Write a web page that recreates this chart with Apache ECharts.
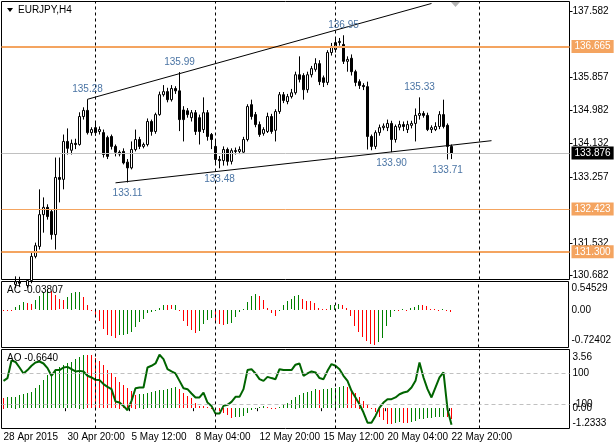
<!DOCTYPE html>
<html>
<head>
<meta charset="utf-8">
<script src="https://cdn.jsdelivr.net/npm/echarts@6/dist/echarts.min.js"></script>
<style>
  html, body { margin: 0; padding: 0; background: #fff; }
  #chart { width: 614px; height: 447px; }
</style>
</head>
<body>
<div id="chart"></div>
<script>
// EURJPY H4, 28 Apr 2015 04:00 .. 22 May 2015 20:00 (one value per bar)
const symbolName = 'EURJPY,H4';

const opens = [130.35,130.40,130.30,130.45,130.52,130.48,130.42,130.55,131.18,131.44,
  132.27,132.46,132.35,131.75,133.24,133.19,134.18,133.95,134.13,134.10,
  134.83,134.99,134.41,134.54,134.44,134.41,134.28,134.31,134.05,133.90,
  133.92,133.64,133.49,133.97,134.23,134.05,134.10,134.70,134.44,134.88,
  135.40,135.48,135.27,135.56,135.50,135.00,134.98,134.80,134.93,134.80,
  134.49,134.93,134.36,134.05,133.71,133.68,133.97,133.66,133.94,133.92,
  133.90,134.23,135.14,134.88,134.62,134.39,134.44,134.83,134.47,134.96,
  135.40,135.22,135.35,135.45,135.92,135.90,135.53,135.92,136.06,136.21,
  135.84,135.72,136.50,136.58,136.76,136.71,136.27,136.35,136.00,135.74,
  135.64,135.61,134.31,134.05,134.41,134.54,134.54,134.65,134.23,134.55,
  134.62,134.49,134.60,134.65,134.86,134.91,134.86,134.49,134.49,134.57,
  134.88,134.60,134.05];
const highs = [130.50,130.55,130.52,130.66,130.65,130.56,130.58,131.28,131.54,132.93,
  132.72,132.54,132.40,133.76,133.76,134.36,134.52,134.23,134.25,134.94,
  135.07,135.28,134.55,134.70,134.57,134.49,134.33,134.36,134.10,133.95,
  134.00,133.72,134.18,134.49,134.30,134.15,134.78,134.75,134.93,135.48,
  135.65,135.58,135.65,135.62,135.99,135.10,135.05,135.00,135.00,134.88,
  135.33,135.00,134.40,134.23,133.80,134.05,134.02,134.00,134.02,134.05,
  134.30,135.15,135.27,134.95,134.70,134.55,134.93,134.90,135.02,135.47,
  135.47,135.42,135.55,136.00,136.40,135.96,136.00,136.15,136.35,136.30,
  135.90,136.56,136.75,136.89,136.88,136.95,136.40,136.45,136.05,135.80,
  135.70,135.74,134.36,134.47,134.62,134.65,134.75,134.72,134.62,134.72,
  134.70,134.72,134.72,135.04,135.33,134.97,134.93,134.60,134.68,134.97,
  135.27,134.65,134.10];
const lows = [130.20,130.25,130.18,130.35,130.40,130.30,130.35,130.48,131.13,131.36,
  131.80,132.14,131.62,131.36,132.59,132.93,133.84,133.84,133.98,134.07,
  134.75,134.36,134.33,134.33,134.36,133.76,133.72,133.97,133.79,133.79,
  133.58,133.11,133.45,133.92,133.98,134.00,134.05,134.33,134.38,134.85,
  135.35,135.20,135.22,135.42,134.45,134.18,134.80,134.70,134.35,134.10,
  134.40,134.20,133.98,133.60,133.48,133.55,133.55,133.58,133.84,133.85,
  133.88,134.18,134.75,134.55,134.30,134.33,134.40,134.38,134.18,134.90,
  135.18,135.15,135.30,135.40,135.72,135.27,135.45,135.85,136.00,135.65,
  135.60,135.65,136.42,136.50,136.68,136.20,136.00,135.90,135.62,135.55,
  135.52,133.97,133.95,133.98,134.33,134.47,134.45,133.90,134.15,134.47,
  134.45,134.40,134.52,134.18,134.75,134.80,134.45,134.40,134.45,134.50,
  134.52,133.71,133.72];
const closes = [130.40,130.30,130.45,130.52,130.48,130.42,130.55,131.18,131.46,132.27,
  132.46,132.22,131.75,133.24,133.19,134.18,134.00,134.13,134.10,134.83,
  134.99,134.41,134.49,134.41,134.49,133.84,133.79,134.05,133.90,133.85,
  133.62,133.49,133.97,134.23,134.05,134.10,134.70,134.44,134.88,135.40,
  135.48,135.27,135.56,135.50,134.75,134.75,134.88,134.93,134.44,134.44,
  134.93,134.31,134.23,133.71,133.68,133.97,133.66,133.94,133.92,133.97,
  134.23,135.09,134.83,134.62,134.36,134.49,134.83,134.44,134.96,135.40,
  135.25,135.35,135.45,135.92,135.80,135.53,135.92,136.08,136.21,135.74,
  135.72,136.50,136.66,136.76,136.79,136.27,136.32,136.00,135.72,135.64,
  135.61,134.31,134.05,134.41,134.54,134.58,134.65,134.23,134.57,134.62,
  134.57,134.62,134.65,134.86,134.91,134.86,134.49,134.54,134.57,134.88,
  134.57,134.05,133.876];

// Accelerator Oscillator
const acValues = [0.005,0.004,0.003,0.05,0.10,0.15,0.135,0.12,0.18,0.26,
  0.34,0.40,0.37,0.29,0.20,0.18,0.24,0.33,0.335,0.345,
  0.245,0.10,0.003,-0.13,-0.22,-0.37,-0.49,-0.50,-0.53,-0.49,
  -0.48,-0.46,-0.43,-0.33,-0.24,-0.17,-0.06,-0.03,-0.005,0.03,
  0.10,0.095,0.085,0.10,-0.004,-0.205,-0.30,-0.385,-0.44,-0.40,
  -0.27,-0.19,-0.16,-0.22,-0.26,-0.28,-0.27,-0.25,-0.14,-0.03,
  0.02,0.15,0.26,0.30,0.26,0.18,0.03,-0.06,-0.12,0.004,
  0.10,0.17,0.20,0.26,0.29,0.20,0.17,0.165,0.135,0.03,
  0.02,0.015,0.09,0.10,0.105,0.085,0.04,-0.11,-0.30,-0.42,
  -0.51,-0.59,-0.65,-0.67,-0.62,-0.53,-0.30,-0.14,-0.02,-0.025,
  0.008,0.004,0.03,0.05,0.10,0.095,0.07,0.02,0.015,0.003,
  0.02,0.004,-0.03807];

// Awesome Oscillator
const aoValues = [0.64,0.65,0.67,0.70,0.80,0.86,0.90,1.00,1.20,1.41,
  1.71,2.01,2.12,2.32,2.48,2.62,2.76,2.82,2.97,3.13,
  3.25,3.24,3.20,3.03,2.88,2.62,2.32,2.12,1.87,1.61,
  1.41,1.20,1.05,0.82,0.84,0.88,0.92,0.96,1.02,1.08,
  1.12,1.16,1.20,1.26,1.14,0.90,0.74,0.60,0.29,0.13,
  0.12,0.05,-0.01,-0.11,-0.21,-0.31,-0.41,-0.62,-0.56,-0.52,
  -0.48,-0.31,-0.11,0.01,0.09,0.13,0.09,0.01,0.005,0.05,
  0.19,0.33,0.50,0.70,0.80,0.90,1.00,1.04,1.14,1.10,
  1.14,1.18,1.20,1.24,1.30,1.34,1.30,1.10,0.90,0.70,
  0.45,0.20,-0.07,-0.25,-0.52,-0.72,-0.96,-1.00,-0.92,-0.86,
  -0.88,-0.92,-0.86,-0.80,-0.68,-0.64,-0.62,-0.58,-0.56,-0.55,
  -0.52,-0.56,-0.664];

// CCI line drawn in the AO window (own scale, levels +/-100)
const cciValues = [52,70,185,175,139,100,122,150,172,178,
  165,135,85,122,122,139,143,128,113,117,
  113,85,74,59,57,31,13,-2,-82,-89,
  -111,-139,-78,4,9,9,139,150,165,222,
  193,128,113,100,52,4,-2,-30,-56,-56,
  -24,-89,-111,-161,-161,-111,-104,-85,-52,-52,
  -2,122,128,100,63,52,78,70,63,128,
  122,122,122,157,165,85,100,113,107,70,
  63,117,161,150,128,85,52,-13,-56,-100,
  -154,-220,-220,-176,-122,-89,-67,-67,-56,-35,
  -24,-17,9,52,172,74,-2,-56,9,74,
  107,-132,-234];

const priceTicks = [137.582, 135.857, 134.982, 134.132, 133.257, 131.532, 130.682];
const levelLines = [136.665, 132.423, 131.300];
const levelWidths = [2, 1, 2];
const lastPrice = 133.876;

const timeLabels = ['28 Apr 2015', '30 Apr 20:00', '5 May 12:00', '8 May 04:00',
  '12 May 20:00', '15 May 12:00', '20 May 04:00', '22 May 20:00'];
const timeLabelIndex = [0, 16, 32, 48, 64, 80, 96, 112];
const separators = [23, 53, 83, 119];

const highMarks = [[21, 135.28], [44, 135.99], [85, 136.95], [104, 135.33]];
const lowMarks = [[31, 133.11], [54, 133.48], [97, 133.90], [111, 133.71]];
const upperTrend = [[21, 135.28], [107, 137.78]];
const lowerTrend = [[28, 133.10], [122, 134.20]];

const slotCount = 142; // bars plus empty space on the right
const categories = [];
for (let i = 0; i < slotCount; i++) categories.push(String(i));

const GREEN = '#008000';
const RED = '#ff0000';
const ORANGE = '#f4a460';
const FONT = 'Liberation Sans';

const candles = opens.map((o, i) => [o, closes[i], lows[i], highs[i]]);

// [index, value, rising?] for the histograms
const histData = arr => arr.map((v, i) => [i, v, i > 0 && v > arr[i - 1] ? 1 : 0]);

// one crisp 1px column per bar
const renderHist = (params, api) => {
  const top = api.coord([api.value(0), api.value(1)]);
  const base = api.coord([api.value(0), 0]);
  const x = Math.floor(top[0]);
  const y0 = Math.round(Math.min(top[1], base[1]));
  const h = Math.max(1, Math.round(Math.abs(top[1] - base[1])));
  return {
    type: 'rect',
    shape: { x: x, y: y0, width: 1, height: h },
    style: { fill: api.value(2) ? GREEN : RED }
  };
};

const sepLines = separators.map(x => ({ xAxis: x }));
const sepStyle = { color: '#000', type: [3, 3], width: 1 };

const markLabelsHigh = highMarks.map(m => ({
  coord: m, value: m[1].toFixed(2),
  label: { position: 'top', distance: 5 }
}));
const markLabelsLow = lowMarks.map(m => ({
  coord: m, value: m[1].toFixed(2),
  label: { position: 'bottom', distance: 6 }
}));

const priceLines = levelLines.map((v, i) => ({
  yAxis: v,
  lineStyle: { color: ORANGE, width: levelWidths[i], type: 'solid' },
  label: {
    show: true, position: 'end', distance: 2,
    formatter: () => v.toFixed(3),
    backgroundColor: ORANGE, color: '#fff',
    padding: [2, 3, 1, 3], fontSize: 10, fontFamily: FONT
  }
}));
priceLines.push({
  yAxis: lastPrice,
  lineStyle: { color: '#c0c0c0', width: 1, type: 'solid' },
  label: {
    show: true, position: 'end', distance: 2,
    formatter: () => lastPrice.toFixed(3),
    backgroundColor: '#000', color: '#fff',
    padding: [2, 3, 1, 3], fontSize: 10, fontFamily: FONT
  }
});

const trendLine = pts => [
  { coord: pts[0], lineStyle: { color: '#000', width: 1, type: 'solid' } },
  { coord: pts[1] }
];

const panelX = i => ({
  type: 'category', gridIndex: i, data: categories, boundaryGap: true,
  axisLine: { show: false }, axisTick: { show: false }, axisLabel: { show: false },
  splitLine: { show: false }
});

const subLabel = (text, pos) => {
  // push edge labels inside their window, as the terminal does
  if (pos === 'top') return '{t|' + text + '}';
  if (pos === 'bottom') return '{b|' + text + '}';
  return text;
};

const chart = echarts.init(document.getElementById('chart'));

chart.setOption({
  animation: false,
  backgroundColor: '#fff',
  textStyle: { fontFamily: FONT },
  grid: [
    { left: 1.5, top: 1.5, width: 568, height: 278, show: true, borderColor: '#000', borderWidth: 1 },
    { left: 1.5, top: 281.5, width: 568, height: 66, show: true, borderColor: '#000', borderWidth: 1 },
    { left: 1.5, top: 349.5, width: 568, height: 79, show: true, borderColor: '#000', borderWidth: 1 }
  ],
  xAxis: [
    panelX(0),
    panelX(1),
    Object.assign(panelX(2), {
      axisTick: {
        show: true, length: 3, lineStyle: { color: '#000' },
        interval: idx => timeLabelIndex.indexOf(idx) >= 0
      },
      axisLabel: {
        show: true, color: '#000', fontSize: 10, fontFamily: FONT,
        align: 'left', margin: 4,
        interval: idx => timeLabelIndex.indexOf(idx) >= 0,
        formatter: (v, idx) => {
          const k = timeLabelIndex.indexOf(idx);
          return k >= 0 ? timeLabels[k] : '';
        }
      }
    })
  ],
  yAxis: [
    {
      type: 'value', gridIndex: 0, position: 'right', min: 130.578, max: 137.831,
      splitLine: { show: false }, axisLine: { show: false },
      axisTick: { show: true, length: 3, lineStyle: { color: '#000' }, customValues: priceTicks },
      axisLabel: {
        customValues: priceTicks, color: '#000', fontSize: 10, fontFamily: FONT, margin: 3,
        formatter: v => v.toFixed(3)
      }
    },
    {
      type: 'value', gridIndex: 1, position: 'right', min: -0.72402, max: 0.54529,
      splitLine: { show: false }, axisLine: { show: false }, axisTick: { show: false },
      axisLabel: {
        customValues: [0.54529, 0, -0.72402], color: '#000', fontSize: 10, fontFamily: FONT, margin: 3,
        formatter: v => v === 0 ? '0.00' : subLabel(String(v), v > 0 ? 'top' : 'bottom'),
        rich: { t: { padding: [14, 0, 0, 0], fontSize: 10 }, b: { padding: [0, 0, 14, 0], fontSize: 10 } }
      }
    },
    {
      type: 'value', gridIndex: 2, position: 'right', min: -1.2333, max: 3.56,
      splitLine: { show: false }, axisLine: { show: false }, axisTick: { show: false },
      axisLabel: {
        customValues: [3.56, 0, -1.2333], color: '#000', fontSize: 10, fontFamily: FONT, margin: 3,
        formatter: v => v === 0 ? '0.00' : subLabel(String(v), v > 0 ? 'top' : 'bottom'),
        rich: { t: { padding: [16, 0, 0, 0], fontSize: 10 }, b: { padding: [0, 0, 10, 0], fontSize: 10 } }
      }
    },
    {
      type: 'value', gridIndex: 2, position: 'right', min: -258, max: 256,
      splitLine: { show: false }, axisLine: { show: false }, axisTick: { show: false },
      axisLabel: {
        customValues: [100, -100], color: '#000', fontSize: 10, fontFamily: FONT, margin: 3,
        formatter: v => String(v)
      }
    }
  ],
  graphic: [
    { type: 'polygon', shape: { points: [[7, 8], [13, 8], [10, 12]] }, style: { fill: '#000' } },
    { type: 'text', left: 18, top: 5, style: { text: symbolName, fill: '#000', font: '10px "Liberation Sans"' } },
    { type: 'polygon', shape: { points: [[451, 2], [460, 2], [455.5, 7]] }, style: { fill: '#b4b4b4' } },
    { type: 'text', left: 7, top: 285, z: 10, style: { text: 'AC ' + acValues[acValues.length - 1].toFixed(5), fill: '#000', font: '10px "Liberation Sans"' } },
    { type: 'text', left: 7, top: 353, z: 10, style: { text: 'AO ' + aoValues[aoValues.length - 1].toFixed(4), fill: '#000', font: '10px "Liberation Sans"' } }
  ],
  series: [
    {
      type: 'candlestick', name: symbolName, xAxisIndex: 0, yAxisIndex: 0,
      data: candles, barWidth: 3, clip: true,
      itemStyle: { color: '#fff', color0: '#000', borderColor: '#000', borderColor0: '#000', borderWidth: 1 },
      markLine: {
        silent: true, symbol: ['none', 'none'], animation: false,
        label: { show: false },
        lineStyle: sepStyle,
        data: [
          ...priceLines,
          ...sepLines,
          trendLine(upperTrend),
          trendLine(lowerTrend)
        ]
      },
      markPoint: {
        silent: true, symbol: 'circle', symbolSize: 0, animation: false,
        label: { show: true, color: '#4a74a4', fontSize: 10, fontFamily: FONT, formatter: p => p.value },
        data: [...markLabelsHigh, ...markLabelsLow]
      }
    },
    {
      type: 'custom', name: 'AC', xAxisIndex: 1, yAxisIndex: 1,
      data: histData(acValues), renderItem: renderHist,
      encode: { x: 0, y: 1 }
    },
    {
      type: 'custom', name: 'AO', xAxisIndex: 2, yAxisIndex: 2,
      data: histData(aoValues), renderItem: renderHist,
      encode: { x: 0, y: 1 }
    },
    {
      type: 'line', name: 'AC sep', xAxisIndex: 1, yAxisIndex: 1, data: [],
      markLine: { silent: true, symbol: ['none', 'none'], label: { show: false }, lineStyle: sepStyle, data: sepLines }
    },
    {
      type: 'line', name: 'AO sep', xAxisIndex: 2, yAxisIndex: 2, data: [],
      markLine: { silent: true, symbol: ['none', 'none'], label: { show: false }, lineStyle: sepStyle, data: sepLines }
    },
    {
      type: 'line', name: 'CCI', xAxisIndex: 2, yAxisIndex: 3,
      data: cciValues, symbol: 'none', z: 3,
      lineStyle: { color: '#006400', width: 2 },
      markLine: {
        silent: true, symbol: ['none', 'none'], label: { show: false },
        lineStyle: { color: '#c0c0c0', type: [4, 3], width: 1 },
        data: [{ yAxis: 100 }, { yAxis: -100 }]
      }
    }
  ]
});
</script>
</body>
</html>
